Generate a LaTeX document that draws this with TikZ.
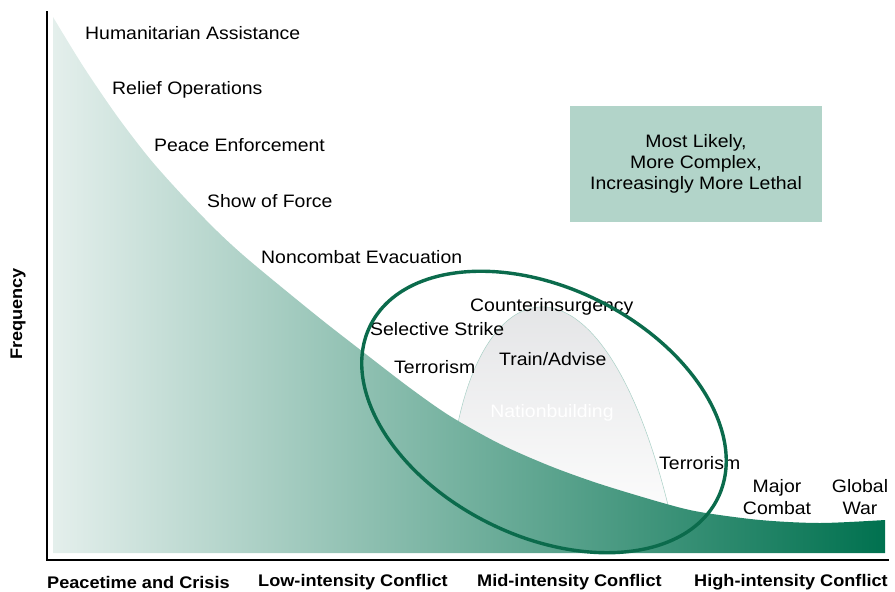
\documentclass[tikz,border=0pt]{standalone}
\usepackage{fontspec}
\setmainfont[FakeStretch=1.08]{Liberation Sans}
\usetikzlibrary{positioning}
\definecolor{armygreen}{HTML}{00714F}
\definecolor{palegreen}{HTML}{E4EFEC}
\definecolor{boxgreen}{HTML}{B2D4C9}
\definecolor{ringgreen}{HTML}{0B6B4C}
\definecolor{bellgray}{HTML}{DEDFE1}
\definecolor{bellline}{HTML}{A9D0C6}
\tikzstyle{task} = [anchor=west, inner sep=0pt, font=\fontsize{18}{21.5}\selectfont]
\tikzstyle{level} = [anchor=west, inner sep=0pt, font=\bfseries\fontsize{16.8}{20}\selectfont]
\tikzstyle{note} = [rectangle, fill=boxgreen, minimum width=252pt, minimum height=116pt,
    align=center, font=\fontsize{18}{21}\selectfont]
\tikzstyle{axis} = [draw, line width=2.4pt]
\tikzstyle{ring} = [draw=ringgreen, line width=3.4pt]

\begin{document}
\begin{tikzpicture}[x=1pt, y=-1pt]
	\useasboundingbox (0,0) rectangle (895,592);

		% nationbuilding bell
		\shade[top color=bellgray, middle color=bellgray!25, bottom color=white]
			(458,423) .. controls (492,262) and (605,250) .. (668,505) -- (668,540) -- (458,540) -- cycle;
		\draw[bellline, line width=0.5pt]
			(458,423) .. controls (492,262) and (605,250) .. (668,505);
		\node[anchor=center, inner sep=0pt, text=white, font=\fontsize{18}{21.5}\selectfont] (nation) at (552,413) {Nationbuilding};

		% frequency curve
		\shade[left color=palegreen, right color=armygreen]
			plot[smooth] coordinates {(53,17) (83,66) (117,116) (150,159) (183,196) (217,231)
				(250,261) (317,316) (367,355) (410,388) (450,416) (500,444) (550,466)
				(600,484) (663,503) (700,512) (760,520) (820,523) (885,520)}
			-- (885,553) -- (53,553) -- cycle;

		% axes
		\coordinate (top) at (47,11);
		\coordinate (origin) at (47,560);
		\coordinate (right) at (889,560);
		\path [axis] (top) -- (origin) -- (right);

		\node [level, rotate=90, anchor=center] (freq) at (18,314) {Frequency};

		\node [level] (peace) at (47,582) {Peacetime and Crisis};
		\node [level] (low) at (258,582) {Low-intensity Conflict};
		\node [level] (mid) at (477,582) {Mid-intensity Conflict};
		\node [level] (high) at (694,582) {High-intensity Conflict};

		\node [task] (human) at (85,33) {Humanitarian Assistance};
		\node [task] (relief) at (112,90) {Relief Operations};
		\node [task] (enforce) at (154,145) {Peace Enforcement};
		\node [task] (show) at (207,201) {Show of Force};
		\node [task] (neo) at (261,257) {Noncombat Evacuation};

		\node [task] (coin) at (470,307) {Counterinsurgency};
		\node [task] (strike) at (370,329) {Selective Strike};
		\node [task] (terror) at (394,367) {Terrorism};
		\node [task] (train) at (499,359) {Train/Advise};
		\node [task] (terrortwo) at (659,463) {Terrorism};
		\node [task, anchor=center, align=center] (major) at (777,497) {Major\\Combat};
		\node [task, anchor=center, align=center] (global) at (860,497) {Global\\War};

		\node [note] (likely) at (696,164) {Most Likely,\\More Complex,\\Increasingly More Lethal};

		% most likely region
		\coordinate (mc) at (544,412);
		\path [ring, rotate around={-26.5:(mc)}] (mc) ellipse [x radius=194, y radius=124];
	\end{tikzpicture}
\end{document}
